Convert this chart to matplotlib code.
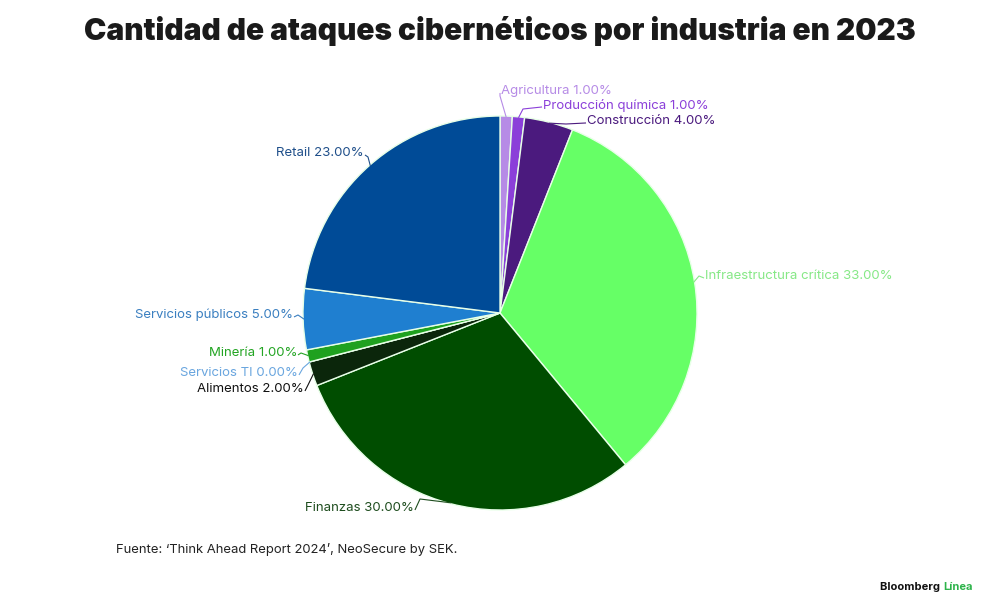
import numpy as np
import matplotlib
matplotlib.use("Agg")
import matplotlib.pyplot as plt

plt.rcParams['font.family'] = ['Inter', 'DejaVu Sans']

# datos
industrias = ["Agricultura", "Producción química", "Construcción",
              "Infraestructura crítica", "Finanzas", "Alimentos",
              "Servicios TI", "Minería", "Servicios públicos", "Retail"]
porcentajes = [1, 1, 4, 33, 30, 2, 0, 1, 5, 23]
colores = ["#b68be6", "#8b3fd9", "#4b1a7e", "#66ff66", "#004d00",
           "#0b260b", "#5b9fe0", "#1fa11f", "#1f7fd0", "#004b97"]
colores_texto = ["#b68be6", "#8b3fd9", "#4b1a7e", "#86e886", "#1e4d1e",
                 "#111111", "#6aa6df", "#24a524", "#3a7fc0", "#1f4f8a"]

# posicion de cada etiqueta en pixeles (x del borde, y centro), alineacion
pos_etiquetas = [(501, 91, 'left'), (543, 105, 'left'), (587, 121, 'left'),
                 (705, 276, 'left'), (414, 508, 'right'), (304, 389, 'right'),
                 (298, 373, 'right'), (297, 353, 'right'), (293, 315, 'right'),
                 (364, 153, 'right')]
# punto de quiebre de la linea guia (pixeles)
quiebres = [(500, 96), (523, 109), (566, 124),
            (699, 276), (420, 499), (308, 385),
            (303, 368), (301, 353), (298, 315),
            (368, 157)]

W, H = 1000, 615
cx, cy, R = 500, 313, 197

fig = plt.figure(figsize=(10, 6.15), dpi=100)
ax = fig.add_axes([(cx - R) / W, (H - cy - R) / H, 2 * R / W, 2 * R / H])

wedges, _ = ax.pie(porcentajes, colors=colores, startangle=90,
                   counterclock=False, radius=1,
                   wedgeprops=dict(edgecolor="#e8ffe8", linewidth=1))
ax.set_xlim(-1, 1)
ax.set_ylim(-1, 1)
ax.set_aspect('equal')
ax.axis('off')


def px2data(px, py):
    return (px - cx) / R, (cy - py) / R


for w, nombre, val, col, (px, py, ha), q in zip(wedges, industrias, porcentajes,
                                                colores_texto, pos_etiquetas, quiebres):
    ang = np.deg2rad((w.theta1 + w.theta2) / 2)
    ex, ey = 0.995 * np.cos(ang), 0.995 * np.sin(ang)
    tx, ty = px2data(px, py)
    qx, qy = px2data(*q)
    ax.text(tx, ty, f"{nombre} {val:.2f}%", ha=ha, va='center',
            fontsize=9.5, color=col, clip_on=False)
    sx = tx + (-0.005 if ha == 'left' else 0.005)
    ax.plot([sx, qx, ex], [ty - 0.01, qy, ey], color=col, lw=0.8,
            clip_on=False, solid_capstyle='butt')

fig.text(0.5, 1 - 31 / H, "Cantidad de ataques cibernéticos por industria en 2023",
         ha='center', va='center', fontsize=21.5, fontweight='black', color='#1a1a1a')
fig.text(116 / W, 1 - 549 / H, "Fuente: ‘Think Ahead Report 2024’, NeoSecure by SEK.",
         ha='left', va='center', fontsize=9.4, color='#222222')
fig.text(943 / W, 1 - 587 / H, "Bloomberg ", ha='right', va='center',
         fontsize=8, fontweight='bold', color='#111111')
fig.text(943 / W, 1 - 587 / H, "Línea", ha='left', va='center',
         fontsize=8, fontweight='bold', color='#2db34a')

fig.savefig("out.png", dpi=100, facecolor='white')
